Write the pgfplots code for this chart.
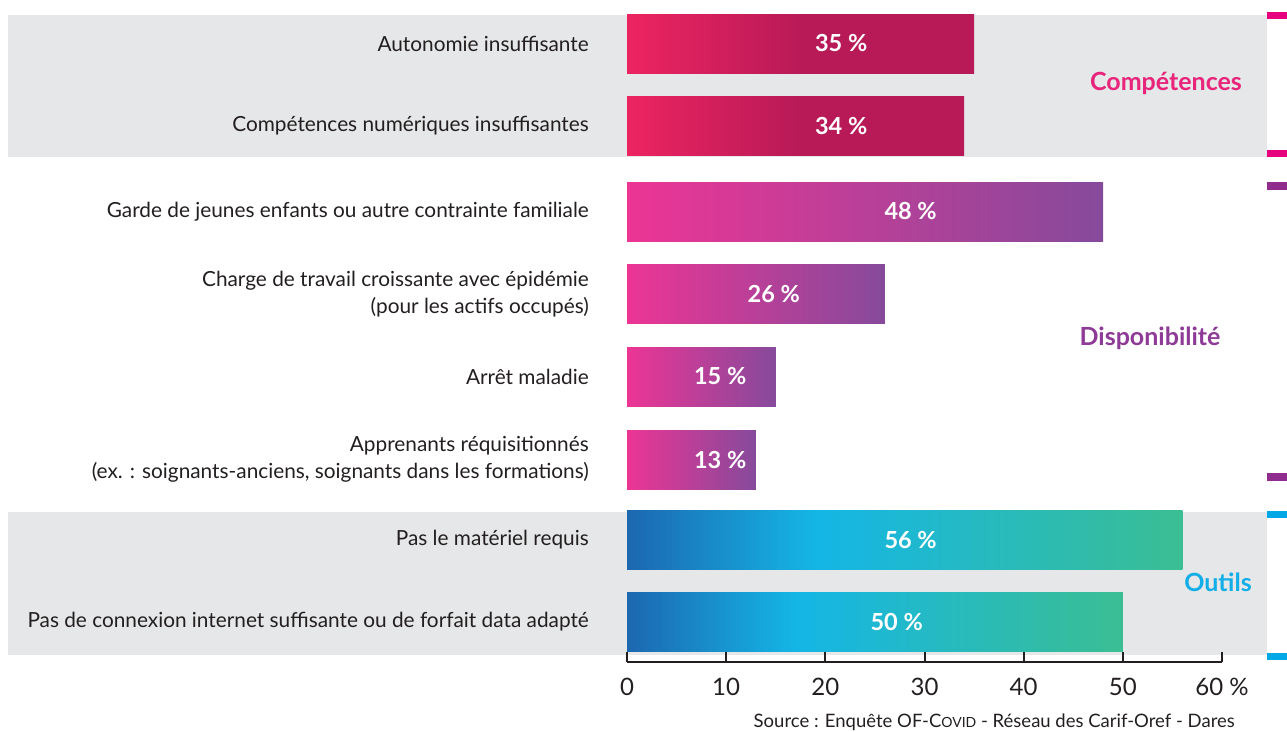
\documentclass[border=0pt]{standalone}
\usepackage{fontspec}
\setmainfont{Lato}
\usepackage{pgfplots}
\usepackage{pgfplotstable}
\pgfplotsset{compat=1.18}
\definecolor{txt}{HTML}{231F20}
\definecolor{bandgray}{HTML}{E6E7E8}
\definecolor{compA}{HTML}{EC2461}
\definecolor{compB}{HTML}{B71A57}
\definecolor{dispA}{HTML}{EC3595}
\definecolor{dispB}{HTML}{864A9B}
\definecolor{outA}{HTML}{1C67B0}
\definecolor{outB}{HTML}{14B6E6}
\definecolor{outC}{HTML}{3BBE93}
\definecolor{pinkL}{HTML}{E8247B}
\definecolor{purpL}{HTML}{8E3A97}
\definecolor{blueL}{HTML}{12AEE8}
\definecolor{pinkT}{HTML}{E6007E}
\definecolor{purpT}{HTML}{8F2C8D}
\definecolor{blueT}{HTML}{00A8E6}
\pgfdeclarehorizontalshading{compshade}{100bp}{color(0bp)=(compA); color(25bp)=(compA); color(51bp)=(compB); color(75bp)=(compB); color(100bp)=(compB)}
\pgfdeclarehorizontalshading{dispshade}{100bp}{color(0bp)=(dispA); color(25bp)=(dispA); color(75bp)=(dispB); color(100bp)=(dispB)}
\pgfdeclarehorizontalshading{outshade}{100bp}{color(0bp)=(outA); color(25bp)=(outA); color(42bp)=(outB); color(75bp)=(outC); color(100bp)=(outC)}

\pgfplotstableread{
x y lab
21.6 43.5 35
21.6 126 34
28.6 211.5 48
14.8 294 26
9.4 376.5 15
9.4 459.5 13
28.6 540 56
27.2 622 50
}\labels

\begin{document}
\begin{tikzpicture}
\useasboundingbox (0pt,0pt) rectangle (1287pt,-731pt);
\fill[bandgray] (8pt,-15pt) rectangle (1267pt,-157pt);
\fill[bandgray] (8pt,-512pt) rectangle (1267pt,-655pt);
\fill[pinkT] (1267pt,-12pt) rectangle (1287pt,-19pt);
\fill[pinkT] (1267pt,-150pt) rectangle (1287pt,-157pt);
\fill[purpT] (1267pt,-182pt) rectangle (1287pt,-190pt);
\fill[purpT] (1267pt,-473pt) rectangle (1287pt,-481pt);
\fill[blueT] (1267pt,-511pt) rectangle (1287pt,-518pt);
\fill[blueT] (1267pt,-653pt) rectangle (1287pt,-660pt);
\node[text=pinkL, font=\fontsize{25pt}{27pt}\selectfont\bfseries] at (1166pt,-83pt) {Compétences};
\node[text=purpL, font=\fontsize{25pt}{27pt}\selectfont\bfseries] at (1150pt,-338pt) {Disponibilité};
\node[text=blueL, font=\fontsize{25pt}{27pt}\selectfont\bfseries] at (1218pt,-582pt) {Outils};
\node[anchor=base east, text=txt, font=\fontsize{18.5pt}{20pt}\selectfont, inner sep=0pt] at (1235pt,-727pt) {Source : Enquête OF-C{\fontsize{14pt}{15pt}\selectfont OVID} - Réseau des Carif-Oref - Dares};
\begin{axis}[
  at={(627pt,-662pt)}, anchor=south west,
  width=595pt, height=662pt, scale only axis,
  xmin=0, xmax=60, ymin=0, ymax=662, y dir=reverse,
  axis x line*=bottom, axis y line*=left,
  x axis line style={line width=2pt, -, draw=txt},
  y axis line style={draw=none},
  xtick={0,10,...,60},
  xticklabels={0,10,20,30,40,50,60 \%},
  xtick align=inside,
  major tick length=10pt,
  xtick style={line width=2pt, draw=txt},
  ytick style={draw=none},
  ytick={43.5,126,211.5,294,376.5,459.5,540,622},
  yticklabels={{Autonomie insuffisante},
    {Compétences numériques insuffisantes},
    {Garde de jeunes enfants ou autre contrainte familiale},
    {Charge de travail croissante avec épidémie\\[2pt](pour les actifs occupés)},
    {Arrêt maladie},
    {Apprenants réquisitionnés\\[2pt](ex. : soignants-anciens, soignants dans les formations)},
    {Pas le matériel requis},
    {Pas de connexion internet suffisante ou de forfait data adapté}},
  yticklabel style={align=right, text=txt, inner sep=0pt, xshift=-38pt,
    font=\fontsize{20.8pt}{25pt}\selectfont},
  xticklabel style={text=txt, font=\fontsize{24pt}{26pt}\selectfont, yshift=-13pt},
  /pgf/number format/assume math mode=true,
  bar width=59, bar shift=0pt,
  clip=false,
]
% Compétences
\addplot[xbar, draw=none, shading=compshade] coordinates {(35,43.5)};
\addplot[xbar, draw=none, shading=compshade] coordinates {(34,126)};
% Disponibilité
\addplot[xbar, draw=none, shading=dispshade] coordinates {(48,211.5)};
\addplot[xbar, draw=none, shading=dispshade] coordinates {(26,294)};
\addplot[xbar, draw=none, shading=dispshade] coordinates {(15,376.5)};
\addplot[xbar, draw=none, shading=dispshade] coordinates {(13,459.5)};
% Outils
\addplot[xbar, draw=none, shading=outshade] coordinates {(56,540)};
\addplot[xbar, draw=none, shading=outshade] coordinates {(50,622)};
\addplot[draw=none, mark=none, nodes near coords={\pgfplotspointmeta~\%},
  point meta=explicit symbolic,
  every node near coord/.append style={anchor=center, text=white,
    font=\fontsize{23.5pt}{25pt}\selectfont\bfseries}]
  table[x=x,y=y,meta=lab] {\labels};
\end{axis}
\end{tikzpicture}
\end{document}
